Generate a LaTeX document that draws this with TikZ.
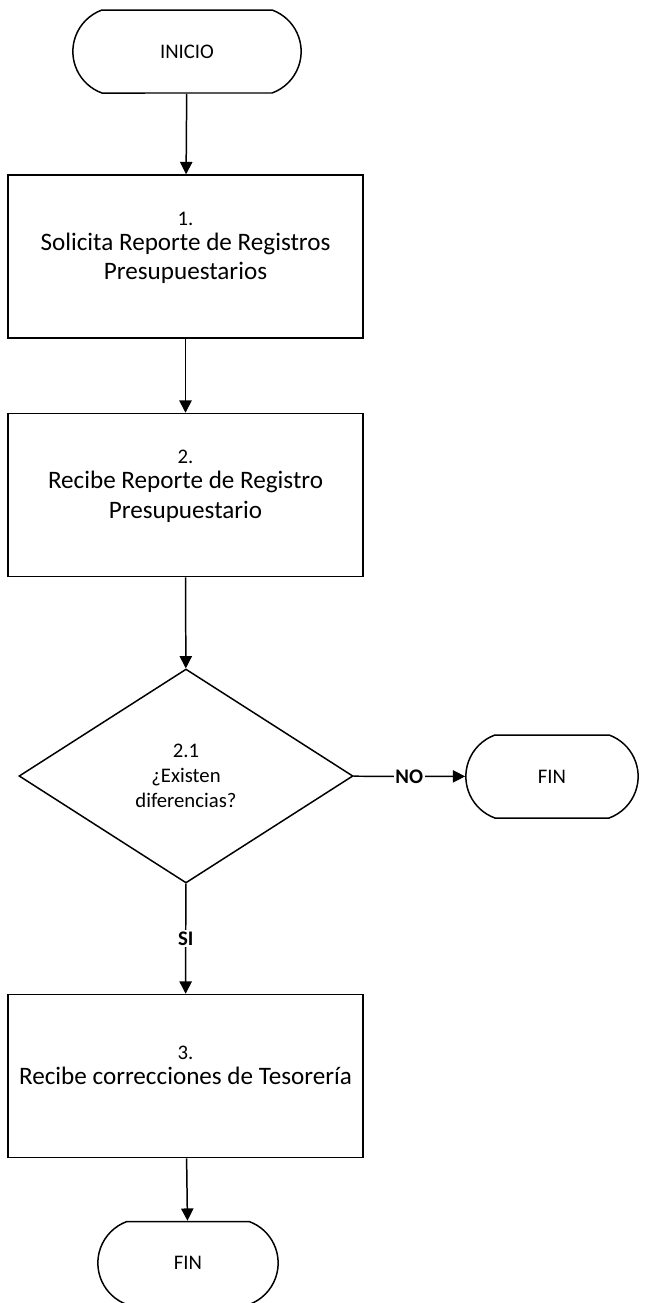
\documentclass[tikz,border=0pt]{standalone}
\usepackage{fontspec}
\setmainfont{Carlito}
\usepackage{tikz}
\usetikzlibrary{shapes.geometric,shapes.misc,arrows.meta}

\newcommand{\smalltxt}{\fontsize{11.8}{14.2}\selectfont}
\newcommand{\largetxt}{\fontsize{14.3}{17}\selectfont}

\begin{document}
\begin{tikzpicture}[
      line width=0.85pt,
      font=\smalltxt,
      term/.style ={draw,rounded rectangle,rounded rectangle arc length=140,minimum width=4.8cm,minimum height=1.66cm},
      proc/.style ={draw,minimum width=7.1cm,minimum height=3.26cm,align=center,font=\largetxt,text depth=12pt},
      dec/.style  ={draw,diamond,minimum width=6.68cm,minimum height=4.28cm,inner sep=0pt,align=center},
      flow/.style ={-{Triangle[length=7pt,width=7pt]}},
      tag/.style  ={fill=white,font=\smalltxt\bfseries,inner sep=1pt}]
      \useasboundingbox (0,0) rectangle (12.9,-26.06);

      % Main column
      \node[term] (inicio) at (3.74,-1.03) {INICIO};
      \node[proc] (paso1) at (3.71,-5.13) {{\smalltxt 1.}\\[-3pt]Solicita Reporte de Registros\\Presupuestarios};
      \node[proc] (paso2) at (3.71,-9.90) {{\smalltxt 2.}\\[-3pt]Recibe Reporte de Registro\\Presupuestario};
      \node[dec]  (decision) at (3.72,-15.52) {2.1\\¿Existen\\diferencias?};
      \node[proc] (paso3) at (3.71,-21.52) {{\smalltxt 3.}\\[-3pt]Recibe correcciones de Tesorería};
      \node[term,minimum width=3.84cm] (finB) at (3.76,-25.26) {FIN};

      % Branch NO
      \node[term,minimum width=3.68cm] (finA) at (11.04,-15.53) {FIN};

      % Connectors
      \draw[flow] (inicio) -- (paso1);
      \draw[flow] (paso1) -- (paso2);
      \draw[flow] (paso2) -- (decision);
      \draw[flow] (decision) -- node[tag] {SI} (paso3);
      \draw[flow] (paso3) -- (finB);
      \draw[flow] (decision) -- node[tag] {NO} (finA);
  \end{tikzpicture}
\end{document}
